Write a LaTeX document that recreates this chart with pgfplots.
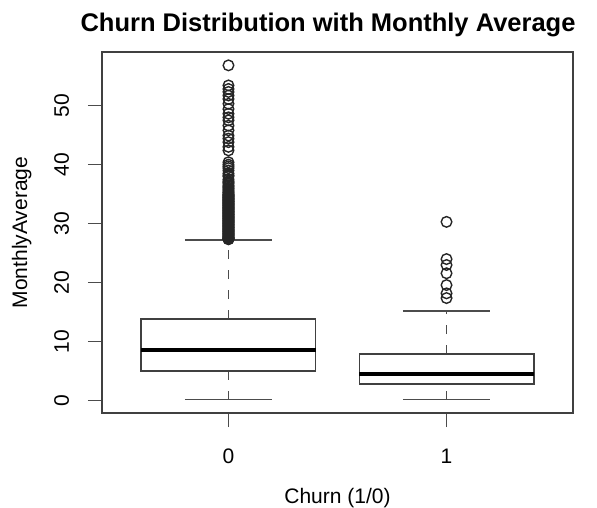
\documentclass[border=0pt]{standalone}
\usepackage{pgfplots}
\pgfplotsset{compat=1.18}
\usepgfplotslibrary{statistics}
\usepackage{fontspec}
\setmainfont{Liberation Sans}

\pgfplotsset{
  boxplot/draw/lower whisker/.code={%
    \draw[black!70, line width=1.6pt, dash pattern=on 9pt off 11pt]
      (boxplot cs:\pgfplotsboxplotvalue{lower whisker})
      -- (boxplot cs:\pgfplotsboxplotvalue{lower quartile});
    \draw[black!70, line width=1.6pt]
      (boxplot whisker cs:\pgfplotsboxplotvalue{lower whisker},0)
      -- (boxplot whisker cs:\pgfplotsboxplotvalue{lower whisker},1);
  },
  boxplot/draw/upper whisker/.code={%
    \draw[black!70, line width=1.6pt, dash pattern=on 9pt off 11pt]
      (boxplot cs:\pgfplotsboxplotvalue{upper quartile})
      -- (boxplot cs:\pgfplotsboxplotvalue{upper whisker});
    \draw[black!70, line width=1.6pt]
      (boxplot whisker cs:\pgfplotsboxplotvalue{upper whisker},0)
      -- (boxplot whisker cs:\pgfplotsboxplotvalue{upper whisker},1);
  },
}

\begin{document}
\fontsize{21}{25}\selectfont
\begin{tikzpicture}
\useasboundingbox (-102pt,-94pt) rectangle (495pt,413pt);
\begin{axis}[
  at={(0,0)}, anchor=south west,
  scale only axis, width=471pt, height=361pt,
  xmin=0.42, xmax=2.58, ymin=-2.06, ymax=59.06,
  xtick={1,2}, xticklabels={0,1},
  ytick={0,10,20,30,40,50},
  tick align=outside, major tick length=14pt,
  tick style={black!70, line width=1.3pt},
  axis line style={black!75, line width=1.3pt},
  xtick pos=bottom, ytick pos=left,
  /pgf/number format/assume math mode=true,
  tick label style={font=\fontsize{21}{25}\selectfont},
  yticklabel style={rotate=90, anchor=base},
  yticklabel shift=19pt,
  xticklabel style={anchor=base},
  xticklabel shift=36pt,
  title={\textbf{Churn Distribution with Monthly Average}},
  title style={font=\fontsize{25.5}{30}\selectfont, anchor=base, yshift=0pt,
    at={(axis description cs:0.4798,1.0388)}},
  xlabel={Churn (1/0)},
  xlabel style={font=\fontsize{21}{25}\selectfont, anchor=base,
    at={(axis description cs:0.5,-0.252)}},
  ylabel={MonthlyAverage},
  ylabel style={font=\fontsize{21}{25}\selectfont, anchor=base, rotate=0,
    at={(axis description cs:-0.1592,0.5)}},
  boxplot/draw direction=y,
  boxplot/every median/.style={line width=3.8pt, draw=black},
  boxplot/every box/.style={line width=1.6pt, draw=black!75},
]
\addplot[draw=black!70, line width=1.3pt, mark=o, mark size=5.3pt,
  mark options={line width=1.4pt, draw=black!85, solid},
  boxplot prepared={draw position=1, median=8.6, lower quartile=5.1,
    upper quartile=13.85, lower whisker=0.2, upper whisker=27.2,
    box extend=0.8, whisker extend=0.4}]
coordinates {
  (0,56.8) (0,53.4) (0,52.8) (0,52.3) (0,51.7) (0,51.1) (0,50.3) (0,49.4)
  (0,48.6) (0,48.0) (0,47.5) (0,46.6) (0,45.8) (0,44.9) (0,44.4) (0,43.8)
  (0,43.0) (0,42.4) (0,40.4) (0,40.0) (0,39.7) (0,39.4) (0,39.0) (0,38.5)
  (0,38.0) (0,37.5) (0,37.0) (0,36.5) (0,36.1) (0,35.7) (0,35.3) (0,35.0)
  (0,34.7) (0,34.4) (0,34.1) (0,33.8) (0,33.5) (0,33.2) (0,32.9) (0,32.6)
  (0,32.3) (0,32.0) (0,31.8) (0,31.5) (0,31.2) (0,31.0) (0,30.7) (0,30.4)
  (0,30.2) (0,29.9) (0,29.7) (0,29.4) (0,29.2) (0,28.9) (0,28.7) (0,28.5)
  (0,28.3) (0,28.1) (0,27.9) (0,27.7) (0,27.5) (0,27.4)
  (0,27.35) (0,27.45) (0,27.55) (0,27.6) (0,27.8) (0,28.0) (0,28.2) (0,28.4)
  (0,28.6) (0,28.8) (0,29.0) (0,29.1) (0,29.3) (0,29.5) (0,29.6) (0,29.8)
  (0,30.0) (0,30.1) (0,30.3) (0,30.5) (0,30.6) (0,30.8) (0,30.9) (0,31.1)
  (0,31.3) (0,31.4) (0,31.6) (0,31.7) (0,31.9) (0,32.1) (0,32.2) (0,32.4)
  (0,32.5) (0,32.7) (0,32.8) (0,33.0) (0,33.1) (0,33.3) (0,33.4) (0,33.6)
  (0,33.7) (0,33.9) (0,34.0) (0,34.2) (0,34.3) (0,34.5) (0,34.6) (0,34.8)
  (0,34.9) (0,35.2) (0,35.5) (0,35.9) (0,36.3) (0,36.8) (0,37.2) (0,38.2)
};
\addplot[draw=black!70, line width=1.3pt, mark=o, mark size=5.3pt,
  mark options={line width=1.4pt, draw=black!85, solid},
  boxplot prepared={draw position=2, median=4.6, lower quartile=2.9,
    upper quartile=7.9, lower whisker=0.2, upper whisker=15.25,
    box extend=0.8, whisker extend=0.4}]
coordinates {
  (0,30.3) (0,24.0) (0,23.0) (0,21.6) (0,19.6) (0,18.2) (0,17.4)
};
\end{axis}
\end{tikzpicture}
\end{document}
